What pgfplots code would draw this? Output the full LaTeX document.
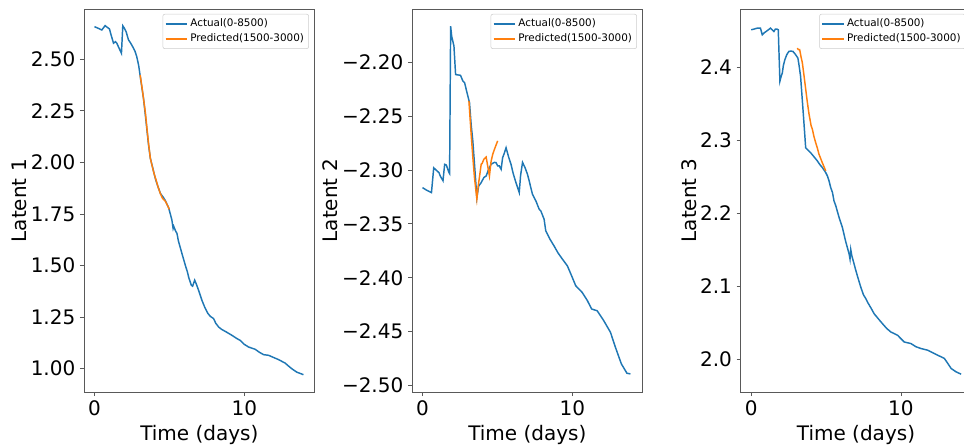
\documentclass[border=0pt]{standalone}
\usepackage{fontspec}
\setmainfont{DejaVu Sans}
\usepackage{pgfplots}
\pgfplotsset{compat=1.18}
\definecolor{mplblue}{RGB}{31,119,180}
\definecolor{mplorange}{RGB}{255,127,14}

\pgfplotsset{
  latent/.style={
    scale only axis, width=173pt, height=287pt,
    xmin=-0.7, xmax=14.7, xtick={0,10},
    xlabel={Time (days)},
    tick align=outside, xtick pos=left, ytick pos=left,
    major tick length=3pt,
    axis line style={draw=black!65, line width=0.6pt},
    tick style={black!65, line width=0.6pt},
    tick label style={font=\fontsize{15}{18}\selectfont},
    label style={font=\fontsize{15}{18}\selectfont},
    ylabel shift=-4pt,
    /pgf/number format/assume math mode=true,
    legend cell align=left,
    legend style={at={(0.975,0.988)}, anchor=north east,
      font=\fontsize{7.8}{10}\selectfont, draw=black!20, rounded corners=1.5pt,
      inner sep=1.5pt},
    legend image code/.code={\draw[#1] (0pt,0pt) -- (16pt,0pt);},
  },
}

\begin{document}
\begin{tikzpicture}
% panel 1
\begin{axis}[latent, at={(63pt,39pt)}, anchor=south west,
  ymin=0.887, ymax=2.742, ylabel={Latent 1},
  ytick={1.00,1.25,1.50,1.75,2.00,2.25,2.50},
  yticklabels={1.00,1.25,1.50,1.75,2.00,2.25,2.50}]
\addplot[draw=mplblue, line width=1.1pt] coordinates {(0,2.658)(0.25,2.65)(0.49,2.642)(0.71,2.663)(0.85,2.655)(1.0,2.647)(1.1,2.62)(1.27,2.578)(1.4,2.585)(1.49,2.578)(1.6,2.56)(1.8,2.529)(1.89,2.662)(2.0,2.65)(2.11,2.634)(2.27,2.594)(2.4,2.58)(2.55,2.561)(2.7,2.54)(2.82,2.513)(2.95,2.47)(3.04,2.424)(3.15,2.37)(3.27,2.311)(3.44,2.20)(3.6,2.09)(3.73,2.02)(3.9,1.97)(4.07,1.92)(4.2,1.89)(4.4,1.85)(4.6,1.83)(4.73,1.815)(4.95,1.78)(5.1,1.74)(5.17,1.72)(5.25,1.68)(5.29,1.69)(5.4,1.67)(5.51,1.655)(5.6,1.62)(5.84,1.558)(6.07,1.5)(6.2,1.47)(6.3,1.44)(6.47,1.404)(6.55,1.40)(6.69,1.429)(6.8,1.41)(6.95,1.38)(7.17,1.332)(7.35,1.30)(7.55,1.27)(7.73,1.254)(7.95,1.243)(8.1,1.22)(8.29,1.202)(8.5,1.19)(8.73,1.181)(9.17,1.162)(9.51,1.146)(9.73,1.137)(10.0,1.118)(10.29,1.105)(10.73,1.094)(11.0,1.08)(11.29,1.068)(11.62,1.065)(12.0,1.053)(12.29,1.044)(12.73,1.027)(13.0,1.01)(13.17,1.0)(13.51,0.983)(13.7,0.978)(13.95,0.971)};
\addlegendentry{Actual(0-8500)}
\addplot[draw=mplorange, line width=1.1pt] coordinates {(3.05,2.424)(3.18,2.36)(3.27,2.311)(3.4,2.24)(3.51,2.16)(3.62,2.085)(3.73,2.02)(3.84,1.985)(4.0,1.94)(4.11,1.915)(4.25,1.88)(4.4,1.848)(4.55,1.825)(4.73,1.812)(4.85,1.795)(5.0,1.772)};
\addlegendentry{Predicted(1500-3000)}
\end{axis}
% panel 2
\begin{axis}[latent, at={(309pt,39pt)}, anchor=south west,
  ymin=-2.506, ymax=-2.151, ylabel={Latent 2},
  ytick={-2.50,-2.45,-2.40,-2.35,-2.30,-2.25,-2.20},
  yticklabels={−2.50,−2.45,−2.40,−2.35,−2.30,−2.25,−2.20}]
\addplot[draw=mplblue, line width=1.1pt] coordinates {(0,-2.3164)(0.3,-2.319)(0.6,-2.321)(0.75,-2.298)(0.9,-2.300)(1.1,-2.3025)(1.2,-2.306)(1.37,-2.310)(1.48,-2.2948)(1.59,-2.2954)(1.77,-2.3025)(1.81,-2.3034)(1.88,-2.1667)(1.95,-2.176)(2.1,-2.185)(2.21,-2.2114)(2.3,-2.2118)(2.48,-2.212)(2.54,-2.2123)(2.7,-2.2176)(2.81,-2.219)(2.92,-2.2253)(3.03,-2.2315)(3.14,-2.2377)(3.25,-2.258)(3.36,-2.273)(3.5,-2.30)(3.63,-2.3256)(3.75,-2.315)(3.92,-2.3117)(4.1,-2.307)(4.25,-2.3056)(4.4,-2.300)(4.58,-2.2947)(4.8,-2.293)(4.91,-2.2932)(5.02,-2.2963)(5.13,-2.2963)(5.25,-2.2994)(5.35,-2.2886)(5.45,-2.285)(5.58,-2.2794)(5.75,-2.288)(5.91,-2.2947)(6.05,-2.303)(6.2,-2.310)(6.46,-2.321)(6.55,-2.305)(6.68,-2.293)(6.85,-2.298)(7.01,-2.304)(7.12,-2.310)(7.34,-2.3225)(7.57,-2.3287)(7.79,-2.3364)(7.9,-2.338)(8.12,-2.3457)(8.23,-2.3565)(8.5,-2.364)(8.78,-2.3704)(9.05,-2.377)(9.34,-2.3827)(9.67,-2.3889)(9.95,-2.398)(10.23,-2.4074)(10.66,-2.4136)(11.0,-2.421)(11.29,-2.429)(11.66,-2.4306)(12.1,-2.4398)(12.55,-2.4506)(12.88,-2.4645)(13.28,-2.480)(13.65,-2.4886)(13.88,-2.4892)};
\addlegendentry{Actual(0-8500)}
\addplot[draw=mplorange, line width=1.1pt] coordinates {(3.1,-2.236)(3.19,-2.2546)(3.25,-2.267)(3.36,-2.288)(3.47,-2.307)(3.63,-2.327)(3.72,-2.315)(3.8,-2.307)(3.92,-2.2947)(3.98,-2.294)(4.1,-2.290)(4.25,-2.288)(4.35,-2.296)(4.47,-2.3056)(4.58,-2.292)(4.69,-2.2855)(4.8,-2.281)(4.91,-2.277)(5.02,-2.273)};
\addlegendentry{Predicted(1500-3000)}
\end{axis}
% panel 3
\begin{axis}[latent, at={(555.5pt,39pt)}, anchor=south west,
  ymin=1.955, ymax=2.479, ylabel={Latent 3},
  ytick={2.0,2.1,2.2,2.3,2.4},
  yticklabels={2.0,2.1,2.2,2.3,2.4}]
\addplot[draw=mplblue, line width=1.1pt] coordinates {(0,2.451)(0.2,2.452)(0.4,2.4532)(0.62,2.4532)(0.74,2.4442)(0.88,2.447)(1.0,2.4487)(1.15,2.451)(1.29,2.4532)(1.4,2.451)(1.52,2.4487)(1.62,2.452)(1.74,2.4518)(1.81,2.451)(1.92,2.3805)(2.0,2.387)(2.08,2.3918)(2.15,2.402)(2.25,2.41)(2.38,2.417)(2.52,2.4214)(2.65,2.4218)(2.79,2.4214)(2.97,2.4169)(3.12,2.4123)(3.2,2.402)(3.3,2.3873)(3.46,2.3419)(3.55,2.316)(3.64,2.2895)(3.8,2.286)(3.97,2.2827)(4.2,2.277)(4.42,2.2714)(4.6,2.266)(4.76,2.2622)(4.98,2.2554)(5.09,2.2509)(5.2,2.244)(5.31,2.235)(5.43,2.2281)(5.53,2.2168)(5.65,2.21)(5.87,2.194)(6.09,2.1804)(6.3,2.162)(6.54,2.144)(6.6,2.137)(6.65,2.15)(6.72,2.1417)(6.85,2.132)(6.99,2.1213)(7.15,2.11)(7.32,2.0985)(7.5,2.088)(7.66,2.0827)(7.77,2.078)(8.0,2.07)(8.21,2.0622)(8.5,2.055)(8.77,2.0485)(9.05,2.042)(9.33,2.0371)(9.55,2.035)(9.78,2.0326)(10.0,2.028)(10.22,2.0235)(10.67,2.0213)(11.0,2.017)(11.34,2.0145)(11.79,2.0122)(12.1,2.009)(12.46,2.0053)(12.7,2.003)(12.9,2.0009)(13.1,1.995)(13.35,1.9872)(13.68,1.9826)(14.02,1.9794)};
\addlegendentry{Actual(0-8500)}
\addplot[draw=mplorange, line width=1.1pt] coordinates {(3.08,2.4259)(3.16,2.4237)(3.24,2.4237)(3.33,2.414)(3.42,2.4055)(3.53,2.388)(3.64,2.37)(3.75,2.352)(3.86,2.336)(4.0,2.32)(4.09,2.3146)(4.19,2.305)(4.31,2.2963)(4.42,2.289)(4.53,2.2805)(4.75,2.269)(4.98,2.2577)};
\addlegendentry{Predicted(1500-3000)}
\end{axis}
\pgfresetboundingbox
\useasboundingbox (0pt,0pt) rectangle (723pt,333pt);
\end{tikzpicture}
\end{document}
